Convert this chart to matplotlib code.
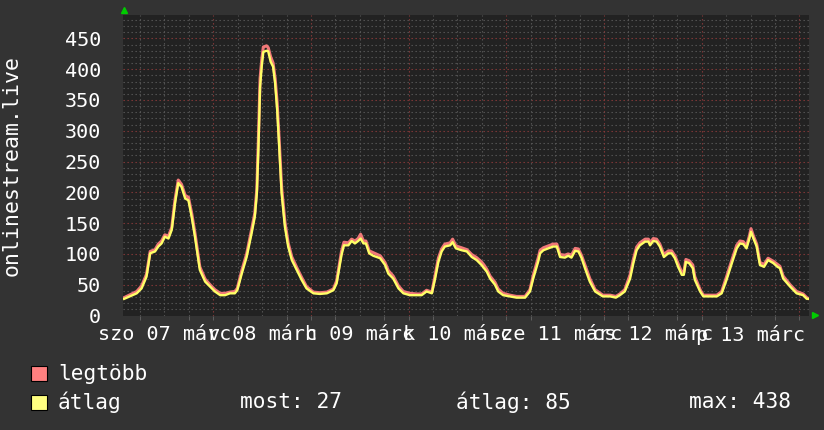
import matplotlib
matplotlib.use("Agg")
import matplotlib.pyplot as plt
from matplotlib.patches import Rectangle

# hours since 07 márc 00:00
hours = [2.1, 5.2, 6.4, 7.6, 8.5, 9.7, 10.5, 11.3, 12.1, 13.0, 13.8, 14.6, 15.4, 16.2, 17.1, 17.9,
         18.7, 19.5, 20.7, 22.0, 23.2, 24.4, 25.7, 26.9, 28.1, 29.3, 29.9, 31.0, 32.2, 33.4, 34.2,
         34.7, 35.1, 35.5, 35.9, 36.3, 37.1, 37.5, 38.1, 38.7, 39.2, 39.7, 40.2, 40.8, 41.6, 42.4,
         43.3, 44.5, 45.7, 46.9, 48.6, 50.2, 51.9, 53.5, 54.3, 55.0, 55.5, 56.1, 57.2, 58.0, 58.8,
         59.6, 60.2, 60.9, 61.5, 62.3, 63.3, 65.0, 66.2, 67.0, 68.2, 69.5, 70.7, 72.3, 74.0, 75.2,
         76.4, 77.7, 78.5, 79.3, 80.1, 80.9, 82.2, 82.8, 83.6, 85.0, 86.3, 87.5, 88.7, 89.9, 90.5,
         91.2, 92.0, 93.2, 94.0, 95.2, 96.9, 98.5, 100.6, 101.8, 102.6, 103.8, 104.3, 105.1, 106.3,
         107.5, 108.4, 109.2, 110.4, 111.2, 112.0, 112.9, 113.7, 114.5, 115.3, 116.5, 117.8, 119.7,
         121.5, 122.9, 123.9, 125.1, 126.4, 127.2, 128.0, 128.8, 130.1, 130.9, 131.3, 132.1, 132.9,
         133.7, 134.7, 135.8, 136.6, 137.4, 138.2, 139.1, 139.6, 140.1, 140.9, 141.8, 142.3, 143.6,
         144.4, 146.0, 147.7, 148.9, 150.1, 151.4, 152.6, 153.4, 154.2, 155.0, 155.7, 156.1, 156.7,
         157.5, 158.3, 159.3, 160.3, 161.6, 162.6, 163.2, 164.0, 165.7, 167.3, 168.9, 169.8, 170.1]

atlag = [27, 36, 44, 63, 101, 104, 112, 117, 128, 125, 139, 182, 215, 209, 190, 187,
         160, 128, 74, 55, 47, 39, 33, 33, 36, 36, 41, 68, 95, 133, 160,
         198, 274, 371, 404, 428, 430, 429, 412, 404, 377, 334, 274, 198, 144, 112,
         90, 74, 58, 44, 36, 35, 36, 41, 52, 79, 98, 114, 114, 121, 117,
         121, 125, 117, 117, 101, 97, 93, 82, 68, 60, 44, 36, 33, 33, 33,
         39, 36, 60, 87, 104, 112, 114, 119, 109, 106, 104, 95, 90, 82, 77,
         71, 60, 50, 39, 33, 31, 29, 29, 39, 60, 87, 101, 106, 109,
         112, 112, 95, 94, 97, 94, 105, 104, 93, 77, 55, 39, 31,
         31, 29, 33, 39, 60, 85, 106, 114, 120, 120, 114, 121, 120,
         112, 95, 101, 101, 93, 79, 66, 66, 87, 85, 77, 58, 39,
         31, 31, 31, 36, 58, 85, 109, 117, 116, 109, 125, 136, 125,
         112, 82, 79, 90, 85, 79, 77, 60, 47, 36, 33, 27, 27]

legtobb = [29, 39, 48, 67, 104, 107, 116, 121, 131, 129, 143, 188, 220, 213, 195, 192,
           166, 134, 79, 59, 50, 42, 36, 36, 38, 39, 44, 73, 100, 139, 166,
           205, 290, 385, 415, 436, 438, 435, 420, 410, 385, 345, 285, 208, 152, 118,
           95, 78, 62, 47, 38, 37, 38, 43, 56, 84, 104, 119, 118, 124, 121,
           125, 132, 121, 121, 105, 102, 97, 86, 73, 64, 48, 39, 36, 35, 35,
           41, 38, 65, 93, 108, 116, 118, 124, 113, 110, 107, 99, 94, 87, 82,
           75, 64, 54, 43, 36, 33, 31, 31, 42, 65, 93, 106, 110, 113,
           116, 116, 99, 98, 100, 98, 109, 108, 97, 82, 60, 42, 33,
           33, 31, 35, 42, 66, 91, 111, 118, 124, 124, 118, 125, 124,
           116, 99, 105, 105, 97, 84, 70, 70, 91, 89, 82, 63, 42,
           33, 33, 33, 39, 63, 90, 114, 121, 120, 113, 129, 141, 129,
           116, 86, 83, 93, 88, 83, 80, 64, 50, 39, 35, 29, 28]

day_labels = ["szo 07 márc", "v 08 márc", "h 09 márc", "k 10 márc",
              "sze 11 márc", "cs 12 márc", "p 13 márc"]
stat_labels = ["most", "átlag", "max"]
stat_values = [27, 85, 438]

W, H = 824, 430
bg = "#333333"
plot_bg = "#222222"
red = "#ff8080"
yellow = "#ffff80"
mono = "DejaVu Sans Mono"
fs = 14.5      # axis tick labels
fs_leg = 15.2  # legend
fs_unit = 15.5 # vertical label

fig = plt.figure(figsize=(W / 100, H / 100), dpi=100, facecolor=bg)
x0, x1, ytop, ybot = 123.3, 809, 15, 315.5
ax = fig.add_axes([x0 / W, 1 - ybot / H, (x1 - x0) / W, (ybot - ytop) / H])
ax.set_facecolor(plot_bg)
for s in ax.spines.values():
    s.set_visible(False)

ax.set_xlim(1.9, 170.35)
ax.set_ylim(0, 488)

# grid
dots = (0, (1.2, 2.4))
for v in range(10, 488, 10):
    if v % 50 == 0:
        ax.axhline(v, color="#8a3a3a", lw=0.8, ls=dots, zorder=1)
    else:
        ax.axhline(v, color="#595959", lw=0.8, ls=dots, zorder=1)
for h in range(6, 171, 6):
    if h % 24 == 0:
        ax.axvline(h, color="#8a3a3a", lw=0.8, ls=dots, zorder=1)
    else:
        ax.axvline(h, color="#595959", lw=0.8, ls=dots, zorder=1)

ax.plot(hours, legtobb, color="#f07878", lw=2.2, zorder=3)
ax.plot(hours, atlag, color="#ffff66", lw=1.7, zorder=4)

ax.set_yticks(range(0, 451, 50))
ax.set_yticklabels([str(v) for v in range(0, 451, 50)])
noons = [12 + 24 * i for i in range(len(day_labels))]
ax.set_xticks(noons)
ax.set_xticklabels(day_labels)
ax.set_xticks(range(6, 171, 6), minor=True)
ax.tick_params(axis="both", which="major", length=0, labelsize=fs, labelcolor="white")
ax.tick_params(axis="x", which="minor", length=3, color="#666666", direction="out")
ax.tick_params(axis="y", which="major", pad=16)
ax.tick_params(axis="x", which="major", pad=7)
for lab in ax.get_xticklabels() + ax.get_yticklabels():
    lab.set_family(mono)

fig.text(12 / W, 1 - 165 / H, "onlinestream.live", rotation=90, color="white",
         family=mono, fontsize=fs_unit, ha="center", va="center")

# axis arrows
fig.add_artist(plt.Line2D([124 / W], [1 - 10 / H], marker="^", color="#00cc00",
                          markersize=5, linestyle="none"))
fig.add_artist(plt.Line2D([815 / W], [1 - 315 / H], marker=">", color="#00cc00",
                          markersize=5, linestyle="none"))

# legend
fig.add_artist(Rectangle((31.5 / W, 1 - 381 / H), 15.5 / W, 15 / H, transform=fig.transFigure,
                         facecolor=red, edgecolor="black", lw=0.8))
fig.add_artist(Rectangle((31.5 / W, 1 - 409.5 / H), 15.5 / W, 15 / H, transform=fig.transFigure,
                         facecolor=yellow, edgecolor="black", lw=0.8))
fig.text(58 / W, 1 - 373.5 / H, "legtöbb", color="white", family=mono, fontsize=fs_leg, va="center")
fig.text(58 / W, 1 - 402 / H, "átlag", color="white", family=mono, fontsize=fs_leg, va="center")
stat_x = [239.5, 456.5, 689]
for sx, name, val in zip(stat_x, stat_labels, stat_values):
    fig.text(sx / W, 1 - 402 / H, f"{name}: {val}", color="white", family=mono,
             fontsize=fs_leg, va="center")

fig.savefig("out.png", dpi=100, facecolor=bg)
